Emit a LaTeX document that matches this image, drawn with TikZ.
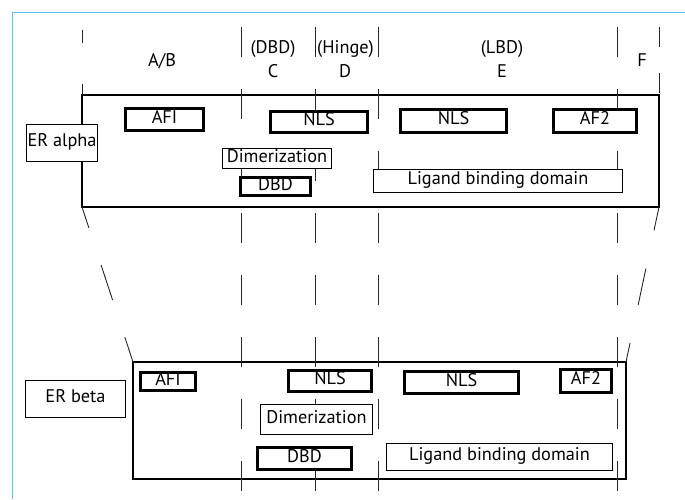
\documentclass[tikz,border=0pt]{standalone}
\usepackage{fontspec}
\setmainfont{PT Sans}
\definecolor{framecyan}{RGB}{88,198,236}
\tikzset{
  domainbox/.style={draw, line width=2.8pt, fill=white, inner sep=0pt, outer sep=0pt,
    text height=0.7em, text depth=0pt},
  regionbox/.style={draw, line width=0.9pt, fill=white, inner sep=0pt, outer sep=0pt,
    text height=0.7em, text depth=0pt},
  bigbox/.style={draw, line width=2.8pt, inner sep=0pt, outer sep=0pt},
  guide/.style={black!85, line width=0.9pt, dash pattern=on 30pt off 32pt},
  slant/.style={black!85, line width=0.9pt, dash pattern=on 37pt off 39pt},
  lbl/.style={anchor=base, inner sep=0pt}
}
\begin{document}
\begin{tikzpicture}[x=1pt, y=-1pt, font=\fontsize{18.3}{21}\selectfont]
  \useasboundingbox (0,0) rectangle (685,499);
  \draw[framecyan, line width=1pt] (685,12) -- (12,12) -- (12,499);

  % receptor outlines
  \node[bigbox, minimum width=577pt, minimum height=112pt] (alpha) at (370.5,151) {};
  \node[bigbox, minimum width=493pt, minimum height=117pt] (beta) at (379.5,420.5) {};

  % region borders
  \foreach \gx in {241,315,378,617}
    \draw[guide] (\gx,27) -- (\gx,493);
  \draw[guide, dash pattern=on 13pt off 41pt] (82,30) -- (alpha.north west);
  \draw[guide, dash pattern=on 20pt off 26pt] (659,27) -- (alpha.north east);
  \draw[slant, dash phase=15pt] (alpha.south west) -- (beta.north west);
  \draw[slant, dash phase=13pt] (alpha.south east) -- (beta.north east);

  % region labels
  \node[lbl] (ab) at (162,66) {A/B};
  \node[lbl] (cdbd) at (273,53.5) {(DBD)};
  \node[lbl] (c) at (273,77) {C};
  \node[lbl] (dhinge) at (345.5,53.5) {(Hinge)};
  \node[lbl] (d) at (345,77) {D};
  \node[lbl] (elbd) at (502,53.5) {(LBD)};
  \node[lbl] (e) at (502,77) {E};
  \node[lbl] (f) at (642,66.5) {F};

  % ER alpha
  \node[regionbox, minimum width=71pt, minimum height=37pt] (eralpha) at (62,143) {ER alpha};
  \node[domainbox, minimum width=78pt, minimum height=22pt] (afialpha) at (164.5,119.5) {AFI};
  \node[domainbox, minimum width=97pt, minimum height=21pt] (nlsalpha) at (319,122) {NLS};
  \node[domainbox, minimum width=106pt, minimum height=23pt] (nlsalphb) at (453.5,121) {NLS};
  \node[domainbox, minimum width=83pt, minimum height=23pt] (afalpha) at (595,121) {AF2};
  \node[regionbox, minimum width=109pt, minimum height=20pt] (dimalpha) at (277,158.5) {Dimerization};
  \node[domainbox, minimum width=70pt, minimum height=18pt] (dbdalpha) at (275.5,186.5) {DBD};
  \node[regionbox, minimum width=249pt, minimum height=23pt] (lbdalpha) at (498,181) {Ligand binding domain};

  % ER beta
  \node[regionbox, minimum width=100pt, minimum height=37pt] (erbeta) at (75.5,399) {ER beta};
  \node[domainbox, minimum width=55pt, minimum height=18pt] (afibeta) at (168,381.5) {AFI};
  \node[domainbox, minimum width=83pt, minimum height=21pt] (nlsbeta) at (330,381) {NLS};
  \node[domainbox, minimum width=114pt, minimum height=22pt] (nlsbetb) at (461.5,382.5) {NLS};
  \node[domainbox, minimum width=51pt, minimum height=23pt] (afbeta) at (586,381) {AF2};
  \node[regionbox, minimum width=112pt, minimum height=30pt] (dimbeta) at (316.5,419.5) {Dimerization};
  \node[domainbox, minimum width=94pt, minimum height=22pt] (dbdbeta) at (304.5,458.5) {DBD};
  \node[regionbox, minimum width=226pt, minimum height=27pt] (lbdbeta) at (499.5,457) {Ligand binding domain};
\end{tikzpicture}
\end{document}
